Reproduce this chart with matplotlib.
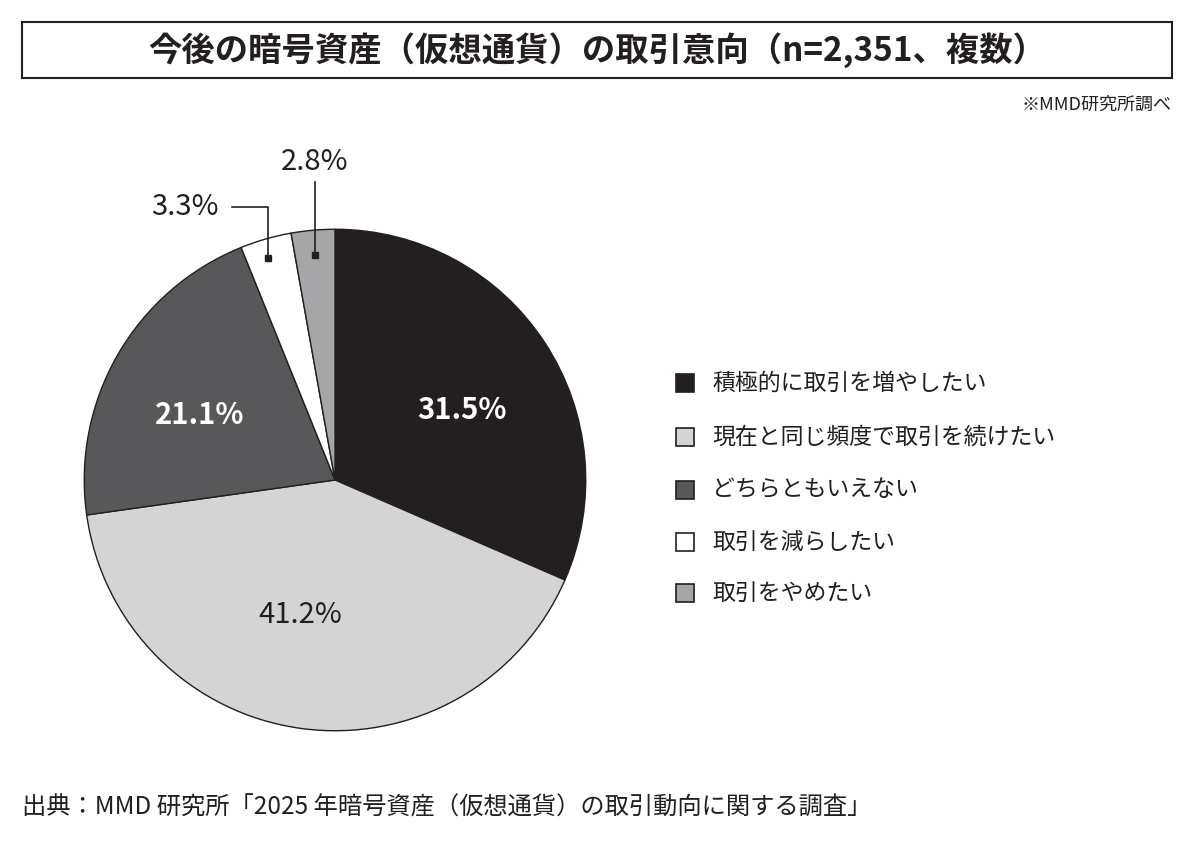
import matplotlib
matplotlib.use("Agg")
import matplotlib.pyplot as plt
from matplotlib.patches import Rectangle
from matplotlib.lines import Line2D

plt.rcParams["font.family"] = "Noto Sans CJK JP"

categories = ["積極的に取引を増やしたい", "現在と同じ頻度で取引を続けたい", "どちらともいえない", "取引を減らしたい", "取引をやめたい"]
values = [31.5, 41.2, 21.1, 3.3, 2.8]
colors = ["#231f20", "#d4d4d5", "#58585a", "#ffffff", "#a6a6a8"]
title = "今後の暗号資産（仮想通貨）の取引意向（n=2,351、複数）"
source = "出典：MMD 研究所「2025 年暗号資産（仮想通貨）の取引動向に関する調査」"

W, H = 1200, 848
fig = plt.figure(figsize=(12, 8.48), dpi=100)
def fx(x): return x / W
def fy(y): return 1 - y / H

ax = fig.add_axes([fx(335 - 252), fy(480 + 252), 504 / W, 504 / H])
ax.pie(values, colors=colors, startangle=90, counterclock=False,
       wedgeprops=dict(edgecolor="#231f20", linewidth=1))
ax.set_xlim(-1.005, 1.005)
ax.set_ylim(-1.005, 1.005)
ax.set_aspect("equal")

# title box
fig.patches.append(Rectangle((fx(22), fy(78)), 1150 / W, 56 / H, transform=fig.transFigure,
                             fill=False, edgecolor="#231f20", linewidth=1.5))
fig.text(fx(597), fy(50), title, ha="center", va="center", fontsize=24, fontweight="bold", color="#231f20")
fig.text(fx(1172), fy(105), "※MMD研究所調べ", ha="right", va="center", fontsize=13, color="#231f20")

# value labels
fig.text(fx(462), fy(410), f"{values[0]}%", ha="center", va="center", fontsize=21, fontweight="bold", color="white")
fig.text(fx(300), fy(615), f"{values[1]}%", ha="center", va="center", fontsize=21, color="#231f20")
fig.text(fx(200), fy(415), f"{values[2]}%", ha="center", va="center", fontsize=21, fontweight="bold", color="white")
fig.text(fx(185), fy(207), f"{values[3]}%", ha="center", va="center", fontsize=21, color="#231f20")
fig.text(fx(315), fy(162), f"{values[4]}%", ha="center", va="center", fontsize=21, color="#231f20")

# leader lines
fig.lines.append(Line2D([fx(232), fx(268), fx(268)], [fy(207), fy(207), fy(258)],
                        transform=fig.transFigure, color="#231f20", linewidth=1.2))
fig.lines.append(Line2D([fx(268)], [fy(258)], transform=fig.transFigure, marker="s",
                        markersize=5, color="#231f20"))
fig.lines.append(Line2D([fx(315), fx(315)], [fy(182), fy(255)],
                        transform=fig.transFigure, color="#231f20", linewidth=1.2))
fig.lines.append(Line2D([fx(315)], [fy(255)], transform=fig.transFigure, marker="s",
                        markersize=5, color="#231f20"))

# legend
rows = [383, 437, 490, 542, 593]
for cat, col, y in zip(categories, colors, rows):
    fig.patches.append(Rectangle((fx(676), fy(y + 9)), 18 / W, 18 / H, transform=fig.transFigure,
                                 facecolor=col, edgecolor="#231f20", linewidth=1.2))
    fig.text(fx(712), fy(y), cat, ha="left", va="center", fontsize=16.5, color="#231f20")

fig.text(fx(22), fy(808), source, ha="left", va="center", fontsize=17.5, color="#231f20")

fig.savefig("out.png", dpi=100, facecolor="white")
